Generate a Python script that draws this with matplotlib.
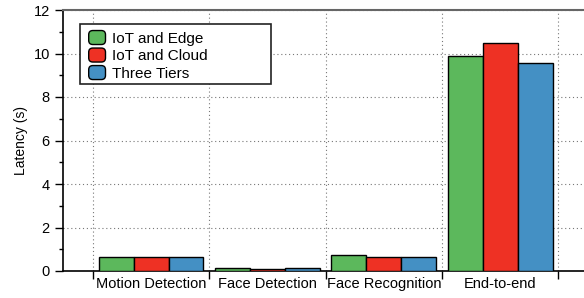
import numpy as np
import matplotlib
matplotlib.use('Agg')
import matplotlib.pyplot as plt
from matplotlib.ticker import MultipleLocator
from matplotlib.patches import FancyBboxPatch, Rectangle
from matplotlib.legend_handler import HandlerPatch
from matplotlib.container import BarContainer

plt.rcParams['font.family'] = ['Liberation Sans', 'DejaVu Sans']

# data
stages = ['Motion Detection', 'Face Detection', 'Face Recognition', 'End-to-end']
iot_edge = [0.63, 0.12, 0.72, 9.87]
iot_cloud = [0.63, 0.08, 0.63, 10.46]
three_tiers = [0.63, 0.12, 0.63, 9.58]

series = ['IoT and Edge', 'IoT and Cloud', 'Three Tiers']
colors = ['#5cb85c', '#ee3124', '#4490c4']

fig = plt.figure(figsize=(5.84, 2.98), dpi=100)
ax = fig.add_axes([63/584, 27/298, 1 - 63/584, 261/298])

x = np.arange(len(stages))
w = 0.30
for i, (vals, lab, c) in enumerate(zip([iot_edge, iot_cloud, three_tiers], series, colors)):
    ax.bar(x + (i - 1) * w, vals, w, color=c, edgecolor='black', linewidth=1.0,
           label=lab, zorder=3)

ax.set_xlim(-0.757, 3.72)
ax.set_ylim(0, 12)
ax.set_ylabel('Latency (s)', fontsize=10)

# ticks at group boundaries, labels centered under groups
ax.set_xticks(np.arange(-0.5, 4.0, 1.0))
ax.set_xticklabels([])
ax.set_xticks(x, minor=True)
ax.set_xticklabels(stages, minor=True, fontsize=10.5)
ax.tick_params(axis='x', which='minor', length=0, pad=4)
ax.tick_params(axis='x', which='major', length=6, width=1, direction='out')
ax.yaxis.set_major_locator(MultipleLocator(2))
ax.yaxis.set_minor_locator(MultipleLocator(1))
ax.tick_params(axis='y', which='major', length=6, width=1, labelsize=10.5)
ax.tick_params(axis='y', which='minor', length=3, width=1)

ax.grid(True, which='major', axis='both', linestyle=(0, (1, 2.5)), color='#777777',
        linewidth=0.8, zorder=0)

ax.spines['right'].set_visible(False)
ax.spines['top'].set_color('#666666')
ax.spines['top'].set_linewidth(1.5)
for s in ['left', 'bottom']:
    ax.spines[s].set_linewidth(1.2)


def rounded(legend, orig_handle, xdescent, ydescent, width, height, fontsize):
    return FancyBboxPatch((-xdescent, -ydescent + 0.6), width, height - 1.2,
                          boxstyle='round,pad=0,rounding_size=3')


def copy_style(handle, orig):
    handle.update_from(orig.patches[0])


# legend box drawn separately so it can be wider than the text
box = Rectangle((17/521, 1 - 14/261 - 60/261), 191/521, 60/261,
                transform=ax.transAxes, facecolor='white', edgecolor='#222222',
                linewidth=1.2, zorder=4)
ax.add_patch(box)
leg = ax.legend(loc='upper left', bbox_to_anchor=(15/521, 1 - 9/261),
                fontsize=11, frameon=False,
                handlelength=1.1, handleheight=1.2, handletextpad=0.45,
                borderpad=0.2, labelspacing=0.1,
                handler_map={BarContainer: HandlerPatch(patch_func=rounded,
                                                        update_func=copy_style)})
leg.set_zorder(5)

fig.savefig('out.png', dpi=100)
